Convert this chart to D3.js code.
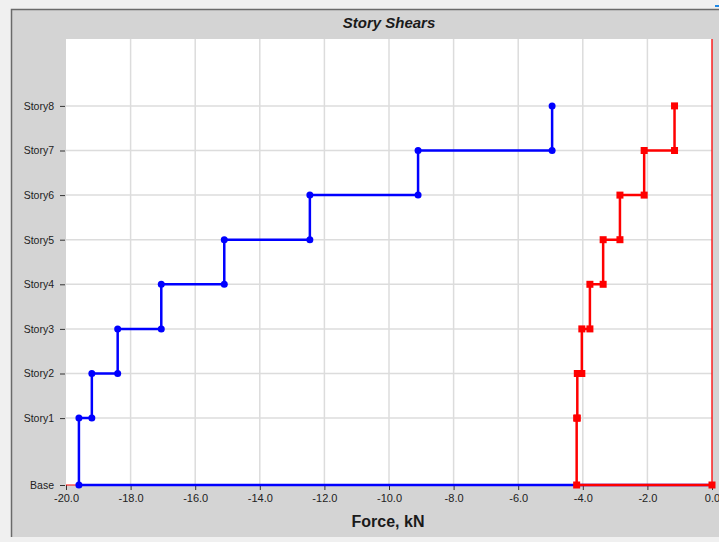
<!DOCTYPE html>
<html lang="en">
<head>
<meta charset="utf-8" />
<title>Story Shears</title>
<script src="https://cdn.jsdelivr.net/npm/d3@7"></script>
<style>
body { margin: 0; background: #f0f0f0; }
svg text { font-family: "Liberation Sans", Arial, sans-serif; }
</style>
</head>
<body>
<script>
// stories, bottom to top, with elevations (m)
var stories = ["Base", "Story1", "Story2", "Story3", "Story4", "Story5", "Story6", "Story7", "Story8"];
var elevations = [0, 4.5, 7.5, 10.5, 13.5, 16.5, 19.5, 22.5, 25.5];
// story shear per story (Story1..Story8), kN
var shearBlue = [-19.6, -19.2, -18.4, -17.05, -15.1, -12.45, -9.1, -4.95];
var shearRed = [-4.19, -4.17, -4.03, -3.78, -3.37, -2.85, -2.1, -1.16];
var xTicks = [-20, -18, -16, -14, -12, -10, -8, -6, -4, -2, 0];

var W = 719, H = 542;
var plot = { left: 66, right: 712, top: 39, bottom: 485 };

var svg = d3.select("body").append("svg")
  .attr("width", W)
  .attr("height", H);

// outer panel
svg.append("rect").attr("x", 0).attr("y", 0).attr("width", W).attr("height", H).attr("fill", "#f0f0f0");
svg.append("rect").attr("x", 11).attr("y", 9).attr("width", W - 11).attr("height", 528).attr("fill", "#d4d4d4");
svg.append("path").attr("d", "M11.5,537V9.5H719").attr("fill", "none").attr("stroke", "#6a6a6a").attr("stroke-width", 1.5);
svg.append("line").attr("x1", 715).attr("x2", 719).attr("y1", 6).attr("y2", 6).attr("stroke", "#1e88e5").attr("stroke-width", 2);

svg.append("rect")
  .attr("x", plot.left).attr("y", plot.top)
  .attr("width", plot.right - plot.left).attr("height", plot.bottom - plot.top)
  .attr("fill", "white");

var x = d3.scaleLinear().domain([-20, 0]).range([plot.left, plot.right]);
var y = d3.scaleLinear().domain([0, 30]).range([plot.bottom, plot.top]);

// grid
svg.append("g").selectAll("line")
  .data(xTicks.slice(1, -1))
  .enter().append("line")
  .attr("x1", function(d) { return x(d); }).attr("x2", function(d) { return x(d); })
  .attr("y1", plot.top).attr("y2", plot.bottom)
  .attr("stroke", "#dcdcdc").attr("stroke-width", 1.5);
svg.append("g").selectAll("line")
  .data(elevations.slice(1))
  .enter().append("line")
  .attr("x1", plot.left).attr("x2", plot.right)
  .attr("y1", function(d) { return y(d); }).attr("y2", function(d) { return y(d); })
  .attr("stroke", "#dcdcdc").attr("stroke-width", 1.5);

// axes (plain hyphen for the minus sign, like the original)
var xAxis = d3.axisBottom(x).tickValues(xTicks)
  .tickFormat(function(d) { return d.toFixed(1); })
  .tickSize(5).tickPadding(4);
var gx = svg.append("g").attr("transform", "translate(0," + plot.bottom + ")").call(xAxis);
gx.select(".domain").remove();
gx.selectAll("text").attr("font-size", "11px").attr("fill", "#222").attr("font-family", "Liberation Sans, Arial, sans-serif");
gx.selectAll("line").attr("stroke", "#333");

var yAxis = d3.axisLeft(y).tickValues(elevations).tickFormat(function(d, i) { return stories[i]; }).tickSize(5).tickPadding(6);
var gy = svg.append("g").attr("transform", "translate(" + (plot.left - 1) + ",0)").call(yAxis);
gy.select(".domain").remove();
gy.selectAll("text").attr("font-size", "10.5px").attr("fill", "#222").attr("font-family", "Liberation Sans, Arial, sans-serif");
gy.selectAll("line").attr("stroke", "#333");

// thin red reference lines
svg.append("line").attr("x1", x(-20)).attr("x2", x(0)).attr("y1", y(0)).attr("y2", y(0))
  .attr("stroke", "red").attr("stroke-width", 1);
svg.append("line").attr("x1", x(0)).attr("x2", x(0)).attr("y1", plot.top).attr("y2", plot.bottom)
  .attr("stroke", "red").attr("stroke-width", 1.3);

function stepPoints(shear) {
  var pts = [];
  for (var i = shear.length; i >= 1; i--) {
    pts.push([shear[i - 1], elevations[i]]);
    pts.push([shear[i - 1], elevations[i - 1]]);
  }
  pts.push([0, elevations[0]]);
  return pts;
}

var line = d3.line().x(function(d) { return x(d[0]); }).y(function(d) { return y(d[1]); });

var bluePts = stepPoints(shearBlue);
svg.append("path").datum(bluePts).attr("d", line)
  .attr("fill", "none").attr("stroke", "#0000ff").attr("stroke-width", 2.5);
svg.append("g").selectAll("circle")
  .data(bluePts.slice(0, -1))
  .enter().append("circle")
  .attr("cx", function(d) { return x(d[0]); })
  .attr("cy", function(d) { return y(d[1]); })
  .attr("r", 3.5)
  .attr("fill", "#0000ff");

var redPts = stepPoints(shearRed);
svg.append("path").datum(redPts).attr("d", line)
  .attr("fill", "none").attr("stroke", "#ff0000").attr("stroke-width", 2.5);
svg.append("g").selectAll("rect")
  .data(redPts)
  .enter().append("rect")
  .attr("x", function(d) { return x(d[0]) - 3.5; })
  .attr("y", function(d) { return y(d[1]) - 3.5; })
  .attr("width", 7).attr("height", 7)
  .attr("fill", "#ff0000");

// titles
svg.append("text").attr("x", 389).attr("y", 28).attr("text-anchor", "middle")
  .attr("font-size", "15px").attr("font-weight", "bold").attr("font-style", "italic").attr("fill", "#1a1a1a")
  .text("Story Shears");
svg.append("text").attr("x", 388).attr("y", 527).attr("text-anchor", "middle")
  .attr("font-size", "16px").attr("font-weight", "bold").attr("fill", "#1a1a1a")
  .text("Force, kN");
</script>
</body>
</html>
